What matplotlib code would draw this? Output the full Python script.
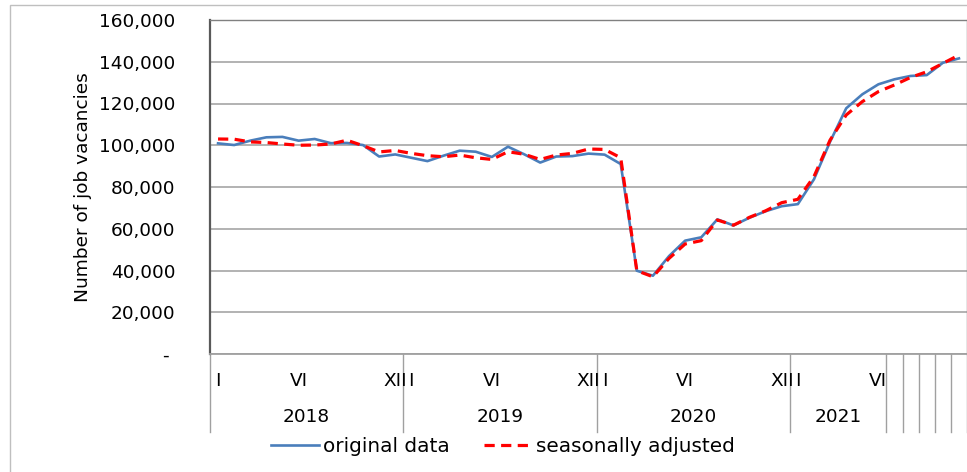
import matplotlib
matplotlib.use("Agg")
import matplotlib.pyplot as plt
from matplotlib.transforms import blended_transform_factory
from matplotlib.ticker import FuncFormatter
from matplotlib.patches import Rectangle

# monthly job vacancies, Jan 2018 - Nov 2021
original = [100900, 100100, 102200, 103800, 104000, 102200, 103000, 101000, 101100, 100100, 94600, 95600,
            94000, 92400, 95000, 97400, 96900, 94400, 99300, 95700, 91700, 94600, 94800, 96000,
            95500, 91000, 39900, 37500, 46900, 54300, 55900, 64500, 61600, 65300, 68400, 70800,
            71800, 83700, 101700, 117700, 124400, 129200, 131600, 133200, 133600, 139500, 141600]
adjusted = [103000, 102900, 101600, 101300, 100600, 100000, 100100, 100600, 102400, 99800, 96800, 97500,
            96100, 95000, 94500, 95300, 94000, 93200, 96900, 95700, 93200, 95300, 96100, 98200,
            98000, 94000, 39900, 37000, 45800, 52700, 54300, 64200, 61700, 65500, 68600, 72500,
            74100, 85000, 102500, 114500, 120900, 125700, 128900, 132500, 135200, 139200, 143200]

month_labels = (["I", "", "", "", "", "VI", "", "", "", "", "", "XII"] * 3
                + ["I", "", "", "", "", "VI", "", "", "", "", ""])
# (year label, number of months in the group)
groups = [("2018", 12), ("2019", 12), ("2020", 12), ("2021", 6),
          ("", 1), ("", 1), ("", 1), ("", 1), ("", 1)]

BLUE = "#4A7EBB"
RED = "#FF0000"
FONT = 13.3

plt.rcParams["font.family"] = ["DejaVu Sans"]

W, H = 967, 472
fig = plt.figure(figsize=(W / 100, H / 100), dpi=100)
ax = fig.add_axes([210 / W, 1 - 354 / H, 757 / W, 334 / H])

x = list(range(len(original)))
ax.plot(x, original, color=BLUE, lw=1.9, solid_joinstyle="round", label="original data", zorder=3)
ax.plot(x, adjusted, color=RED, lw=2.3, dashes=(3.2, 2.0), label="seasonally adjusted", zorder=4)

ax.set_xlim(-0.5, len(original) - 0.5)
ax.set_ylim(0, 160000)
ax.set_yticks(range(0, 160001, 20000))
ax.yaxis.set_major_formatter(FuncFormatter(lambda v, p: "- " if v == 0 else f"{v:,.0f}"))
ax.tick_params(axis="y", length=0, pad=25, labelsize=FONT)
ax.set_xticks([])
ax.grid(axis="y", color="#A6A6A6", lw=1.2)
ax.set_axisbelow(True)

ax.spines["left"].set_color("#595959")
ax.spines["left"].set_linewidth(1.6)
ax.spines["bottom"].set_color("#A0A0A0")
ax.spines["bottom"].set_linewidth(1.3)
for s in ("top", "right"):
    ax.spines[s].set_color("#808080")
    ax.spines[s].set_linewidth(1.0)

# two-level category axis
trans = blended_transform_factory(ax.transData, ax.transAxes)
for i, lab in enumerate(month_labels):
    if lab:
        ax.text(i, -0.081, lab, transform=trans, ha="center", va="center",
                fontsize=FONT, clip_on=False)

start = -0.5
ax.plot([start, start], [0, -0.234], transform=trans, color="#A0A0A0", lw=1, clip_on=False)
for name, n in groups:
    end = start + n
    if name:
        ax.text((start + end) / 2, -0.189, name, transform=trans, ha="center", va="center",
                fontsize=FONT, clip_on=False)
    ax.plot([end, end], [0, -0.234], transform=trans, color="#A0A0A0", lw=1, clip_on=False)
    start = end

fig.text(83 / W, 1 - 187.5 / H, "Number of job vacancies", rotation=90,
         ha="center", va="center", fontsize=FONT)

fig.legend(loc="center", bbox_to_anchor=(503 / W, 1 - 446 / H), ncol=2, frameon=False,
           fontsize=14.4, handlelength=2.4, handletextpad=0.2, columnspacing=1.7)

# chart area border
fig.patches.append(Rectangle((10 / W, -0.1), 2, 1.1 - 5 / H, transform=fig.transFigure,
                             fill=False, ec="#BFBFBF", lw=1))

fig.savefig("out.png", dpi=100)
